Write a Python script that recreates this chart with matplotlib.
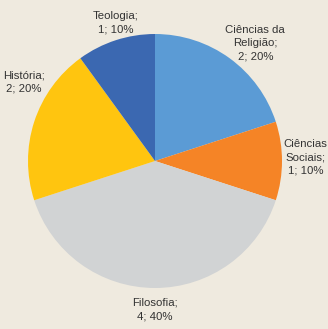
import matplotlib
matplotlib.use("Agg")
import matplotlib.pyplot as plt

# data
labels = ["Ciências da\nReligião", "Ciências\nSociais", "Filosofia", "História", "Teologia"]
counts = [2, 1, 4, 2, 1]
colors = ["#5B9BD5", "#F58426", "#D1D3D4", "#FFC50F", "#3B68B1"]
label_pos = [(0.79, 0.93), (1.185, 0.03), (0.0, -1.17), (-1.03, 0.62), (-0.31, 1.09)]

bg = "#EFEADF"
plt.rcParams['font.family'] = ['Liberation Sans', 'DejaVu Sans']

fig = plt.figure(figsize=(3.28, 3.29), dpi=100, facecolor=bg)
ax = fig.add_axes([(155 - 127) / 328, (329 - 161 - 127) / 329, 254 / 328, 254 / 329])
ax.set_facecolor(bg)

total = sum(counts)
ax.pie(counts, colors=colors, startangle=90, counterclock=False, radius=1,
       wedgeprops=dict(linewidth=0))

for lab, c, (x, y) in zip(labels, counts, label_pos):
    pct = round(100 * c / total)
    ax.text(x, y, f"{lab};\n{c}; {pct}%", ha="center", va="center",
            fontsize=8.2, color="#333333", linespacing=1.4)

ax.set_xlim(-1, 1)
ax.set_ylim(-1, 1)
ax.set_aspect("equal")
ax.axis("off")

fig.savefig("out.png", dpi=100, facecolor=bg)
